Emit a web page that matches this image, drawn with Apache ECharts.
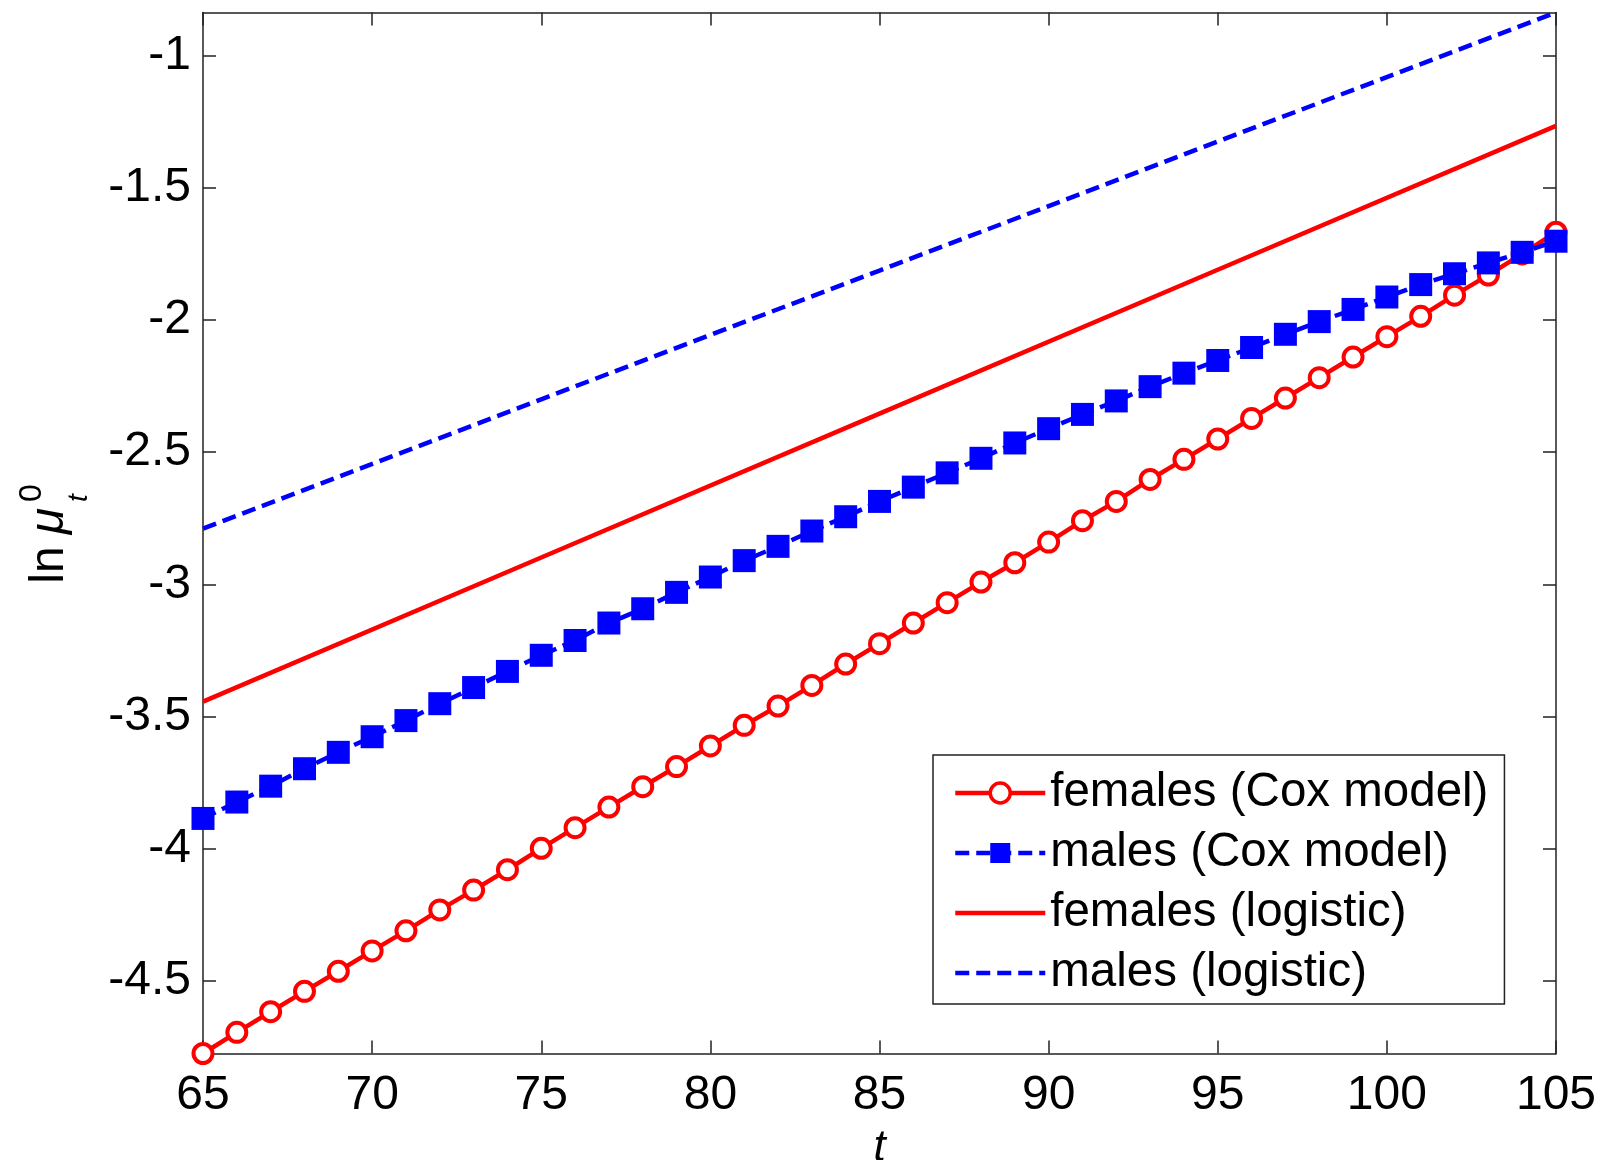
<!DOCTYPE html>
<html>
<head>
<meta charset="utf-8">
<script src="https://cdn.jsdelivr.net/npm/echarts@6/dist/echarts.min.js"></script>
<style>
html,body{margin:0;padding:0;background:#fff;}
#chart{width:1604px;height:1160px;}
</style>
</head>
<body>
<div id="chart"></div>
<script>
const ages = [65,66,67,68,69,70,71,72,73,74,75,76,77,78,79,80,81,82,83,84,85,86,87,88,89,90,91,92,93,94,95,96,97,98,99,100,101,102,103,104,105];
const femalesCox = [-4.774,-4.694,-4.616,-4.539,-4.463,-4.386,-4.310,-4.231,-4.156,-4.079,-3.998,-3.920,-3.842,-3.765,-3.689,-3.611,-3.533,-3.460,-3.382,-3.301,-3.224,-3.146,-3.069,-2.991,-2.918,-2.840,-2.759,-2.686,-2.603,-2.527,-2.450,-2.372,-2.295,-2.218,-2.140,-2.063,-1.986,-1.906,-1.830,-1.750,-1.668];
const malesCox = [-3.885,-3.823,-3.763,-3.697,-3.635,-3.576,-3.515,-3.451,-3.390,-3.329,-3.268,-3.212,-3.146,-3.092,-3.030,-2.972,-2.910,-2.856,-2.798,-2.744,-2.686,-2.632,-2.578,-2.523,-2.465,-2.411,-2.357,-2.306,-2.252,-2.201,-2.153,-2.104,-2.054,-2.006,-1.960,-1.913,-1.866,-1.825,-1.784,-1.744,-1.702];
const logisticAges = [65,75,85,95,105];
const femalesLogistic = [-3.443,-2.898,-2.354,-1.810,-1.266];
const malesLogistic = [-2.789,-2.300,-1.813,-1.325,-0.837];
const xTicks = [65,70,75,80,85,90,95,100,105];
const yTicks = [-4.5,-4,-3.5,-3,-2.5,-2,-1.5,-1];
const seriesNames = ['females (Cox model)','males (Cox model)','females (logistic)','males (logistic)'];
const yMin = -4.774, yMax = -0.837;

const FONT = '"Liberation Sans", Arial, Helvetica, sans-serif';
const AXC = '#222';
const RED = '#ff0000', BLUE = '#0000ff';

function pairs(xs, ys){ return xs.map((x,i)=>[x, ys[i]]); }

const chart = echarts.init(document.getElementById('chart'), null, {renderer:'canvas'});
const baseX = {
  type:'value', min:xTicks[0], max:xTicks[xTicks.length-1], interval:5,
  axisLine:{show:true, onZero:false, lineStyle:{color:AXC, width:1.5}},
  axisTick:{show:true, inside:true, length:13, lineStyle:{color:AXC, width:1.5}},
  splitLine:{show:false}
};
const baseY = {
  type:'value', min:yMin, max:yMax,
  axisLine:{show:true, onZero:false, lineStyle:{color:AXC, width:1.5}},
  axisTick:{show:true, inside:true, length:13, customValues:yTicks, lineStyle:{color:AXC, width:1.5}},
  splitLine:{show:false}
};
const option = {
  animation:false,
  backgroundColor:'#fff',
  grid:{left:203, right:48, top:12.5, bottom:106.5, containLabel:false, outerBoundsMode:'none'},
  xAxis:[
    Object.assign({}, baseX, {position:'bottom',
      axisLabel:{show:true, margin:18, fontSize:48, color:'#000', fontFamily:FONT},
      name:'t', nameLocation:'middle', nameGap:73, nameMoveOverlap:false,
      nameTextStyle:{fontSize:44, fontStyle:'italic', color:'#000', fontFamily:FONT}}),
    Object.assign({}, baseX, {position:'top', axisLabel:{show:false}})
  ],
  yAxis:[
    Object.assign({}, baseY, {position:'left',
      axisLabel:{show:true, margin:12, fontSize:48, color:'#000', fontFamily:FONT, customValues:yTicks}}),
    Object.assign({}, baseY, {position:'right', axisLabel:{show:false}})
  ],
  legend:{
    orient:'vertical', left:933, top:755,
    data:[
      {name:seriesNames[0], itemStyle:{borderWidth:3.5}},
      {name:seriesNames[1]},
      {name:seriesNames[2], itemStyle:{opacity:0}},
      {name:seriesNames[3], itemStyle:{opacity:0}}
    ],
    lineStyle:{width:4.5},
    backgroundColor:'#fff', borderColor:AXC, borderWidth:1.5,
    padding:[14,16,7,20], itemGap:12, itemWidth:90, itemHeight:25,
    textStyle:{fontSize:47.5, lineHeight:48, color:'#000', fontFamily:FONT},
    selectedMode:false
  },
  series:[
    {name:seriesNames[0], type:'line', data:pairs(ages, femalesCox),
     lineStyle:{color:RED, width:4.5}, itemStyle:{color:'#fff', borderColor:RED, borderWidth:4},
     symbol:'circle', symbolSize:19, showSymbol:true, z:2},
    {name:seriesNames[1], type:'line', data:pairs(ages, malesCox),
     lineStyle:{color:BLUE, width:4.5, type:[14,7]}, itemStyle:{color:BLUE, borderColor:BLUE, borderWidth:0},
     symbol:'rect', symbolSize:23, showSymbol:true, z:3},
    {name:seriesNames[2], type:'line', data:pairs(logisticAges, femalesLogistic),
     lineStyle:{color:RED, width:4.5}, itemStyle:{color:RED}, symbol:'none', z:2},
    {name:seriesNames[3], type:'line', data:pairs(logisticAges, malesLogistic),
     lineStyle:{color:BLUE, width:4.5, type:[14,7]}, itemStyle:{color:BLUE}, symbol:'none', z:2}
  ],
  graphic:[
    {type:'text', x:50, y:565, rotation:Math.PI/2,
     style:{text:'ln', font:'48px '+FONT, fill:'#000', align:'center', verticalAlign:'middle'}},
    {type:'text', x:50, y:521, rotation:Math.PI/2,
     style:{text:'μ', font:'italic 48px '+FONT, fill:'#000', align:'center', verticalAlign:'middle'}},
    {type:'text', x:79, y:498, rotation:Math.PI/2,
     style:{text:'t', font:'italic 28px '+FONT, fill:'#000', align:'center', verticalAlign:'middle'}},
    {type:'text', x:32, y:493, rotation:Math.PI/2,
     style:{text:'0', font:'32px '+FONT, fill:'#000', align:'center', verticalAlign:'middle'}}
  ]
};
chart.setOption(option);
</script>
</body>
</html>
